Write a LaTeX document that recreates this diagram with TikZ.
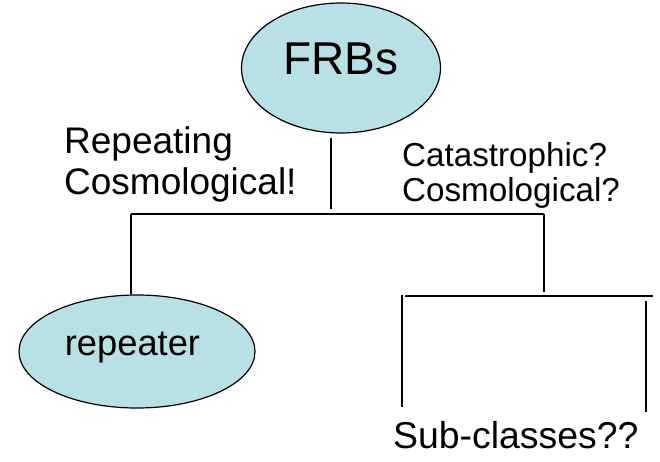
\documentclass[tikz,border=0pt]{standalone}
\usepackage{fontspec}
\setmainfont{Liberation Sans}
\usetikzlibrary{shapes.geometric}
\definecolor{bubblefill}{RGB}{185,224,228}
\begin{document}
\begin{tikzpicture}[x=1pt,y=-1pt]
\tikzset{
  bubble/.style={ellipse, draw=black, fill=bubblefill, line width=1.2pt, inner sep=0pt},
  lbl/.style={inner sep=0pt, anchor=base west},
  wire/.style={line width=1.7pt, line cap=butt}
}
\useasboundingbox[fill=white] (0,0) rectangle (660,462);
% ellipses
\node[bubble, minimum width=199pt, minimum height=130pt] (frb) at (341,68) {};
\node[inner sep=0pt, anchor=base, font=\fontsize{46}{50}\selectfont] (frbtxt) at (341,75) {FRBs};
\node[bubble, minimum width=236pt, minimum height=113pt] (rep) at (137,351.5) {};
\node[inner sep=0pt, anchor=base, font=\fontsize{36.3}{40}\selectfont] (reptxt) at (132.5,355) {repeater};
% labels
\node[lbl, font=\fontsize{37}{41}\selectfont] (l1) at (64,154) {Repeating};
\node[lbl, font=\fontsize{37}{41}\selectfont] (l2) at (64,195) {Cosmological!};
\node[lbl, font=\fontsize{33.2}{36}\selectfont] (r1) at (402,167) {Catastrophic?};
\node[lbl, font=\fontsize{33.2}{36}\selectfont] (r2) at (402,202) {Cosmological?};
\node[lbl, font=\fontsize{37.4}{41}\selectfont] (sub) at (393,448) {Sub-classes??};
% tree lines
\coordinate (ctop) at (331,138);
\coordinate (cbot) at (331,209);
\coordinate (hl) at (131,214);
\coordinate (hr) at (544,214);
\coordinate (rdown) at (544,292);
\coordinate (shl) at (405,296);
\coordinate (shr) at (653,296);
\coordinate (sl1) at (402,295);
\coordinate (sl2) at (402,407);
\coordinate (sr1) at (646,301);
\coordinate (sr2) at (646,412);
\draw[wire] (ctop) -- (cbot);
\draw[wire] (hl) -- (hr);
\draw[wire] (hl) -- (hl |- rep.north);
\draw[wire] (hr) -- (rdown);
\draw[wire] (shl) -- (shr);
\draw[wire] (sl1) -- (sl2);
\draw[wire] (sr1) -- (sr2);
\end{tikzpicture}
\end{document}
